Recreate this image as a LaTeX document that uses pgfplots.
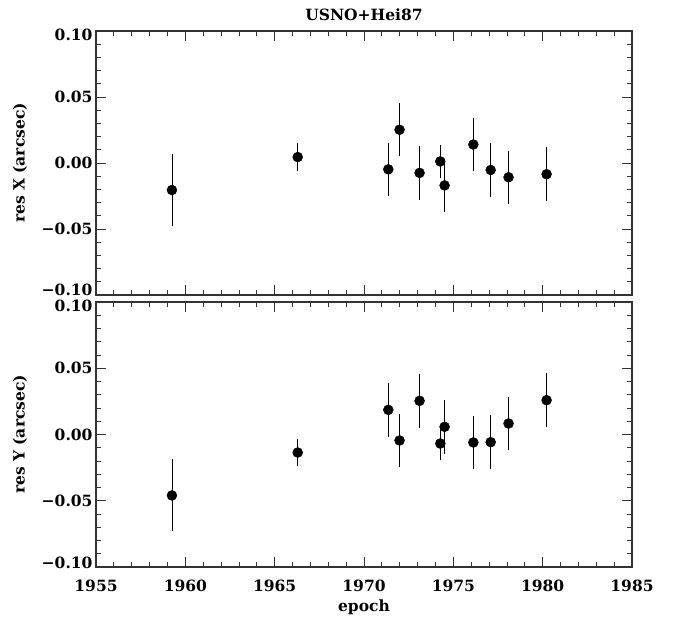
\documentclass[border=0pt]{standalone}
\usepackage{pgfplots}
\pgfplotsset{compat=1.18}
\usepackage{fontspec}
\setmainfont{DejaVu Serif}
\pgfplotstableread{
x y e
1959.25 -0.0205 0.0270
1966.29 0.0045 0.0103
1971.36 -0.0048 0.0203
1971.99 0.0252 0.0201
1973.11 -0.0075 0.0203
1974.27 0.0012 0.0123
1974.51 -0.0170 0.0203
1976.12 0.0140 0.0202
1977.09 -0.0053 0.0202
1978.09 -0.0108 0.0201
1980.22 -0.0085 0.0203
}\resx
\pgfplotstableread{
x y e
1959.25 -0.0460 0.0272
1966.29 -0.0136 0.0104
1971.36 0.0186 0.0204
1971.99 -0.0045 0.0203
1973.11 0.0254 0.0203
1974.27 -0.0068 0.0122
1974.51 0.0058 0.0204
1976.12 -0.0060 0.0202
1977.09 -0.0058 0.0202
1978.09 0.0083 0.0203
1980.22 0.0259 0.0203
}\resy
\pgfplotsset{
  resstyle/.style={
    scale only axis, width=536pt, anchor=north west,
    xmin=1955, xmax=1985, ymin=-0.1, ymax=0.1,
    xtick={1955,1960,1965,1970,1975,1980,1985}, minor x tick num=4,
    ytick={-0.1,-0.05,0,0.05,0.1}, minor y tick num=4,
    yticklabels={\smash{\raisebox{-1pt}{−0.10}},−0.05,0.00,0.05,\smash{\raisebox{-10pt}{0.10}}},
    major tick length=10pt, minor tick length=5pt,
    axis line style={line width=1.2pt, black!80},
    every tick/.style={black!80, line width=0.8pt},
    ylabel style={at={(axis description cs:-0.1418,0.5)}, anchor=center},
    tick label style={font=\fontsize{15.5}{18}\selectfont\bfseries},
    label style={font=\fontsize{15.5}{18}\selectfont\bfseries},
    xticklabel style={yshift=-9pt},
    clip=false,
  },
  resplot/.style={only marks, mark=*, mark size=5pt, black,
    mark options={fill=black, draw=black},
    error bars/.cd, y dir=both, y explicit, error mark=none,
    error bar style={line width=0.8pt, black}},
}
\begin{document}
\begin{tikzpicture}[font=\fontsize{15.5}{18}\selectfont\bfseries]
\path[use as bounding box] (0,0) rectangle (675pt,-617pt);
\begin{axis}[resstyle, at={(96pt,-31pt)}, height=264pt,
  xticklabels={},
  ylabel={res X (arcsec)},
  title={USNO+Hei87},
  title style={at={(axis description cs:0.5,1)}, anchor=base, yshift=4pt, font=\fontsize{15.5}{18}\selectfont\bfseries},
]
\addplot+[resplot] table[x=x, y=y, y error=e] {\resx};
\end{axis}
\begin{axis}[resstyle, at={(96pt,-302pt)}, height=265pt,
  xticklabels={1955,1960,1965,1970,1975,1980,1985},
  ylabel={res Y (arcsec)},
  xlabel={epoch},
  xlabel style={at={(axis description cs:0.5,0)}, anchor=base, yshift=-44pt},
]
\addplot+[resplot] table[x=x, y=y, y error=e] {\resy};
\end{axis}
\end{tikzpicture}
\end{document}
